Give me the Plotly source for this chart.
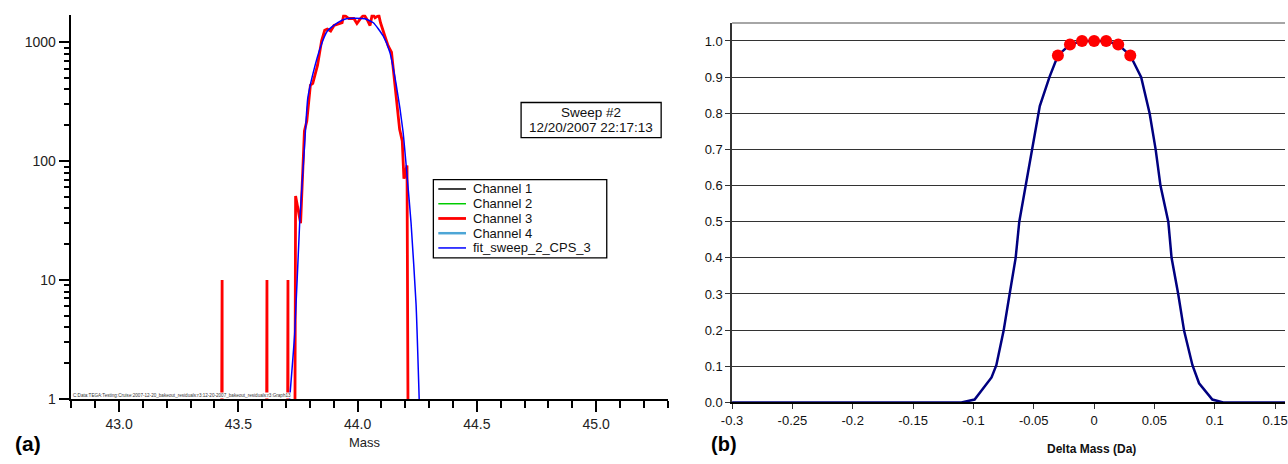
import math
import plotly.graph_objects as go

# ---------------- Panel (a): mass scan (log counts) ----------------
ch3_mass = [43.425, 43.432, 43.433, 43.615, 43.620, 43.621, 43.703, 43.708, 43.709,
            43.733, 43.740, 43.761, 43.777, 43.787, 43.802, 43.812, 43.832, 43.849,
            43.862, 43.873, 43.887, 43.901, 43.918, 43.935, 43.942, 43.963, 43.984,
            43.997, 44.011, 44.027, 44.041, 44.052, 44.062, 44.073, 44.089, 44.096,
            44.114, 44.128, 44.142, 44.155, 44.169, 44.176, 44.187, 44.194, 44.207,
            44.217]
ch3_cps = [0, 10, 0, 0, 10, 0, 0, 10, 0,
           0, 51, 30, 179, 217, 435, 450, 640, 1025,
           1260, 1290, 1240, 1380, 1410, 1455, 1700, 1580, 1580,
           1436, 1570, 1700, 1530, 1380, 1740, 1600, 1680, 1455,
           1127, 931, 822, 464, 280, 185, 148, 71, 92,
           0]

fit_mass = [43.715, 43.736, 43.757, 43.777, 43.791, 43.811, 43.846, 43.873, 43.915,
            43.956, 43.990, 44.030, 44.066, 44.107, 44.135, 44.162, 44.190, 44.210,
            44.224, 44.245, 44.258]
fit_cps = [1, 3.5, 30, 130, 338, 526, 930, 1240, 1455,
           1580, 1590, 1575, 1455, 1127, 822, 435, 179, 65,
           30, 6.2, 1]

legend_names = ["Channel 1", "Channel 2", "Channel 3", "Channel 4", "fit_sweep_2_CPS_3"]
legend_colors = ["#000000", "#00cc00", "#ff0000", "#4da6d6", "#0000ff"]
legend_widths = [1.5, 1.5, 2.8, 2.5, 1.5]
sweep_lines = ["Sweep #2", "12/20/2007 22:17:13"]
file_path = "C:Data:TEGA:Testing:Cruise:2007-12-20_bakeout_residuals:r3:12-20-2007_bakeout_residuals:r3:Graph13"

mass_ticks = [43.0, 43.5, 44.0, 44.5, 45.0]
cps_ticks = [1, 10, 100, 1000]
cps_minor = [m * 10 ** d for d in range(3) for m in range(2, 10)]

# ---------------- Panel (b): normalized peak shape ----------------
dm = [-0.30, -0.11, -0.099, -0.085, -0.081, -0.075, -0.070, -0.065, -0.062, -0.0566,
      -0.0516, -0.045, -0.037, -0.030, -0.020, -0.010, 0.0, 0.010, 0.020, 0.030,
      0.039, 0.046, 0.051, 0.055, 0.0615, 0.0642, 0.0697, 0.0746, 0.0815, 0.087,
      0.098, 0.107, 0.30]
shape_vals = [0, 0, 0.008, 0.069, 0.103, 0.198, 0.30, 0.40, 0.50, 0.60,
              0.70, 0.82, 0.90, 0.96, 0.99, 1.0, 1.0, 1.0, 0.99, 0.96,
              0.90, 0.80, 0.70, 0.60, 0.50, 0.40, 0.30, 0.198, 0.103, 0.053,
              0.008, 0, 0]
pts_dm = [-0.03, -0.02, -0.01, 0.0, 0.01, 0.02, 0.03]
pts_val = [0.96, 0.99, 1.0, 1.0, 1.0, 0.99, 0.96]

dm_tickvals = [-0.3, -0.25, -0.2, -0.15, -0.1, -0.05, 0, 0.05, 0.1, 0.15]
dm_ticktext = ["-0.3", "-0.25", "-0.2", "-0.15", "-0.1", "-0.05", "0", "0.05", "0.1", "0.15"]

W, H = 1288, 464
FONT = "Arial, Liberation Sans, Helvetica, sans-serif"
LOG_FLOOR = 1e-3  # zero counts are drawn below the log axis (clipped)


def px(x):
    return x / W


def py(y):
    return 1 - y / H


fig = go.Figure()

for i, name in enumerate(legend_names):
    if name == "Channel 3":
        x, y = ch3_mass, [v if v > 0 else LOG_FLOOR for v in ch3_cps]
    elif name.startswith("fit"):
        x, y = fit_mass, fit_cps
    else:
        x, y = [None], [None]
    is_fit = name.startswith("fit")
    fig.add_trace(go.Scatter(x=x, y=y, mode="lines", name=name, showlegend=False,
                             line=dict(color=legend_colors[i], width=legend_widths[i],
                                       shape="spline" if is_fit else "linear",
                                       smoothing=0.5 if is_fit else None),
                             xaxis="x", yaxis="y"))

fig.add_trace(go.Scatter(x=dm, y=shape_vals, mode="lines", showlegend=False,
                         line=dict(color="#000080", width=2.5), xaxis="x2", yaxis="y2"))
fig.add_trace(go.Scatter(x=pts_dm, y=pts_val, mode="markers", showlegend=False,
                         marker=dict(color="#ff0000", size=12), cliponaxis=False,
                         xaxis="x2", yaxis="y2"))

axis_common = dict(showgrid=False, zeroline=False, showline=True, ticks="outside")

fig.update_layout(
    width=W, height=H,
    margin=dict(l=0, r=0, t=0, b=0),
    paper_bgcolor="white", plot_bgcolor="white",
    font=dict(family=FONT, color="#000000"),
    showlegend=False,
    xaxis=dict(**axis_common, domain=[px(61), px(664)], range=[42.8, 45.3], anchor="y",
               linecolor="black", linewidth=1.5, tickcolor="black", tickwidth=1.5, ticklen=11,
               tickvals=mass_ticks, ticktext=[f"{v:.1f}" for v in mass_ticks],
               tickfont=dict(size=14, color="#222"),
               minor=dict(dtick=0.1, tick0=42.8, ticks="outside", ticklen=7,
                          tickcolor="black", tickwidth=1.5)),
    yaxis=dict(**axis_common, domain=[py(406), py(15)], type="log",
               range=[0, math.log10(1700)], anchor="x",
               linecolor="black", linewidth=1.5, tickcolor="black", tickwidth=1.5, ticklen=11,
               tickvals=cps_ticks, ticktext=[str(v) for v in cps_ticks],
               tickfont=dict(size=14, color="#222"),
               minor=dict(tickvals=cps_minor, ticks="outside", ticklen=6,
                          tickcolor="black", tickwidth=1.5)),
    xaxis2=dict(**axis_common, domain=[px(729), 1.0], range=[-0.3, 0.1582], anchor="y2",
                linecolor="black", linewidth=1.5, tickcolor="#333", tickwidth=1, ticklen=5,
                tickvals=dm_tickvals, ticktext=dm_ticktext, ticklabeloverflow="allow",
                tickfont=dict(size=13, color="#111")),
    yaxis2=dict(zeroline=False, showline=True, ticks="outside", domain=[py(409.5), py(23.3)],
                range=[0, 1.05], anchor="x2",
                linecolor="#333", linewidth=1.5, tickcolor="#333", tickwidth=1, ticklen=5,
                dtick=0.1, tick0=0, tickformat=".1f",
                showgrid=True, gridcolor="#333", gridwidth=1,
                tickfont=dict(size=13, color="#111")),
)

shapes = [
    # top frame line of panel (b)
    dict(type="line", xref="x2 domain", yref="y2 domain", x0=0, x1=1, y0=1, y1=1,
         line=dict(color="#888", width=1.5)),
    # sweep info box
    dict(type="rect", xref="paper", yref="paper", x0=px(515.7), x1=px(657.3), y0=py(140), y1=py(104.3),
         line=dict(color="black", width=1.3), fillcolor="white", layer="above"),
    # legend box
    dict(type="rect", xref="paper", yref="paper", x0=px(427), x1=px(602.3), y0=py(262.3), y1=py(182.7),
         line=dict(color="black", width=1.3), fillcolor="white", layer="above"),
]

annotations = []
row0, row_step = 192.3, 15.0
for i, name in enumerate(legend_names):
    yy = row0 + i * row_step
    shapes.append(dict(type="line", xref="paper", yref="paper", x0=px(432), x1=px(460),
                       y0=py(yy), y1=py(yy), layer="above",
                       line=dict(color=legend_colors[i], width=legend_widths[i])))
    annotations.append(dict(text=name, x=px(465.5), y=py(yy), xref="paper", yref="paper",
                            showarrow=False, xanchor="left", yanchor="middle",
                            font=dict(size=13, family=FONT, color="#111")))

for i, line in enumerate(sweep_lines):
    annotations.append(dict(text=line, x=px(586.5), y=py(114.3 + 15 * i), xref="paper", yref="paper",
                            showarrow=False, xanchor="center", yanchor="middle",
                            font=dict(size=13.5, family=FONT, color="#111")))


def label(text, x, y, size, color="#111"):
    return dict(text=text, x=px(x), y=py(y), xref="paper", yref="paper", showarrow=False,
                xanchor="center", yanchor="middle", font=dict(size=size, family=FONT, color=color))


annotations += [
    dict(text=file_path, x=px(62), y=py(402.5), xref="paper", yref="paper", showarrow=False,
         xanchor="left", yanchor="middle", font=dict(size=4.6, family=FONT, color="#333"),
         bgcolor="white", borderpad=0),
    label("Mass", 358, 450, 13, "#222"),
    label("<b>(a)</b>", 17, 451, 21, "#000"),
    label("<b>(b)</b>", 721, 452, 20, "#000"),
    label("<b>Delta Mass (Da)</b>", 1092, 457, 12),
]

fig.update_layout(shapes=shapes, annotations=annotations)

post = ("var s=document.createElement('style');"
        "s.textContent='html,body{margin:0;padding:0;overflow:hidden;}';"
        "document.head.appendChild(s);")
fig.write_html("out.html", config={"displayModeBar": False}, post_script=post)
